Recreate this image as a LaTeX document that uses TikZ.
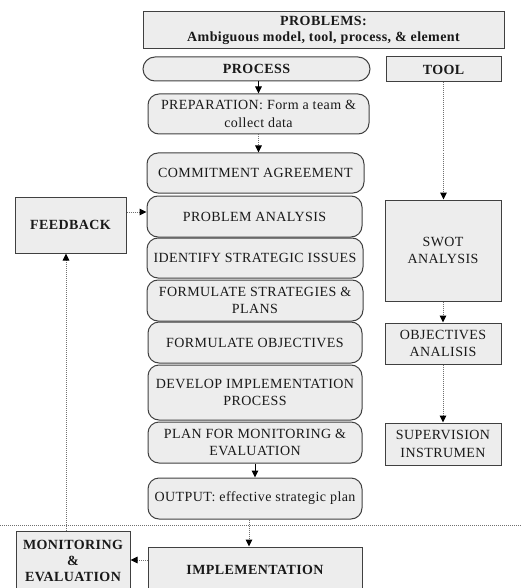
\documentclass[tikz,border=0pt]{standalone}
\usepackage{fontspec}
\setmainfont{Liberation Serif}[LetterSpace=3]
\usetikzlibrary{arrows.meta}
\definecolor{boxfill}{HTML}{EDEDED}
\definecolor{boxline}{HTML}{404040}
\definecolor{dotline}{HTML}{707070}
\tikzset{
  base/.style={draw=boxline, fill=boxfill, line width=1pt, align=center, inner sep=2pt,
    font=\fontsize{14}{17.5}\selectfont, text=black!90},
  rbox/.style={base, rounded corners=11pt},
  sbox/.style={base},
  bbox/.style={base, font=\fontsize{14}{16}\selectfont\bfseries},
  tip/.style={-{Triangle[length=7pt,width=6.5pt,color=black]}},
  solidarrow/.style={tip, line width=1pt, black},
  dotarrow/.style={tip, densely dotted, line width=1pt, dotline},
}
\begin{document}
\begin{tikzpicture}[x=1pt,y=-1pt]
\useasboundingbox (0,0) rectangle (522,588);
\clip (0,0) rectangle (522,588);
% top
\node[bbox, minimum width=361pt, minimum height=37pt] (problems) at (323.5,30.5) {PROBLEMS:\\Ambiguous model, tool, process, \& element};
\node[bbox, rounded corners=12pt, minimum width=227pt, minimum height=24pt] (process) at (256.5,69) {PROCESS};
\node[bbox, minimum width=115pt, minimum height=25pt] (tool) at (443.5,69.5) {TOOL};
% process column
\node[rbox, minimum width=221pt, minimum height=40pt] (prep) at (258.5,114) {PREPARATION: Form a team \&\\collect data};
\node[rbox, minimum width=217pt, minimum height=40pt] (commit) at (255.5,173) {COMMITMENT AGREEMENT};
\node[rbox, minimum width=215pt, minimum height=41pt] (probana) at (254.5,216.5) {PROBLEM ANALYSIS};
\node[rbox, minimum width=216pt, minimum height=40pt] (identify) at (255,258) {IDENTIFY STRATEGIC ISSUES};
\node[rbox, minimum width=216pt, minimum height=41pt] (formstrat) at (255,300.5) {FORMULATE STRATEGIES \&\\PLANS};
\node[rbox, minimum width=214pt, minimum height=41pt] (formobj) at (255,342.5) {FORMULATE OBJECTIVES};
\node[rbox, minimum width=214pt, minimum height=55pt] (develop) at (255,392.5) {DEVELOP IMPLEMENTATION\\PROCESS};
\node[rbox, minimum width=214pt, minimum height=41pt] (planmon) at (255,442.5) {PLAN FOR MONITORING \&\\EVALUATION};
\node[rbox, minimum width=214pt, minimum height=41pt] (output) at (255,498.5) {OUTPUT: effective strategic plan};
% tool column
\node[sbox, minimum width=116pt, minimum height=101pt] (swot) at (443,250.5) {SWOT\\ANALYSIS};
\node[sbox, minimum width=116pt, minimum height=41pt] (objan) at (443,343.5) {OBJECTIVES\\ANALISIS};
\node[sbox, minimum width=116pt, minimum height=42pt] (superv) at (443,444) {SUPERVISION\\INSTRUMEN};
% left column
\node[bbox, minimum width=111pt, minimum height=56pt] (feedback) at (70.5,225) {FEEDBACK};
\node[bbox, minimum width=114pt, minimum height=60pt] (monitor) at (73,561) {MONITORING\\\&\\EVALUATION};
\node[bbox, minimum width=214pt, minimum height=50pt] (impl) at (255,572) {\raisebox{5pt}{IMPLEMENTATION}};
% separator
\coordinate (sepL) at (0,525);
\coordinate (sepR) at (522,525);
\draw[densely dotted, line width=1pt, dotline] (sepL) -- (sepR);
% arrows
\draw[solidarrow] (prep.north |- process.south) -- (prep.north);
\draw[dotarrow] (prep.south) -- (prep.south |- commit.north);
\draw[dotarrow] (tool.south) -- (tool.south |- swot.north);
\draw[dotarrow] (swot.south) -- (objan.north);
\draw[dotarrow] (objan.south) -- (superv.north);
\draw[solidarrow] (planmon.south) -- (output.north);
\draw[dotarrow] ([xshift=-6pt]output.south) -- ([xshift=-6pt]output.south |- impl.north);
\coordinate (fbin) at ([yshift=4.5pt]probana.west);
\draw[dotarrow] (feedback.east |- fbin) -- (fbin);
\coordinate (imout) at ([yshift=12pt]impl.west);
\draw[dotarrow] (imout) -- (monitor.east |- imout);
\coordinate (mnout) at ([xshift=-7pt]monitor.north);
\draw[dotarrow] (mnout) -- (mnout |- feedback.south);
\end{tikzpicture}
\end{document}
